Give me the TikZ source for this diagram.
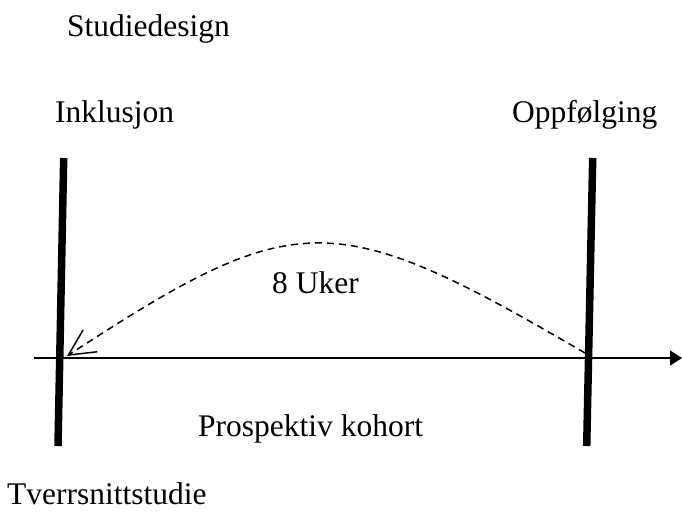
\documentclass[tikz,border=0pt]{standalone}
\usepackage{fontspec}
\setmainfont{Liberation Serif}
\usetikzlibrary{arrows.meta}
\begin{document}
\begin{tikzpicture}[x=1pt,y=-1pt,
  lbl/.style={anchor=base west,inner sep=0pt,font=\fontsize{31.5}{38}\selectfont},
  bar/.style={line width=7.5pt},
  axis/.style={line width=1.5pt,-{Triangle[length=12pt,width=15pt]}},
  span/.style={line width=1.5pt,dash pattern=on 7pt off 5pt,-{Straight Barb[length=26pt,width=26pt,line width=1.5pt]}}]
\useasboundingbox (0,0) rectangle (682,512);
\node[lbl] (title) at (67,36) {Studiedesign};
\node[lbl] (inkl) at (55,122.7) {Inklusjon};
\node[lbl] (oppf) at (512,122.7) {Oppfølging};
\node[lbl] (uker) at (272,293) {8 Uker};
\node[lbl] (pros) at (198,436) {Prospektiv kohort};
\node[lbl] (tver) at (7,504) {Tverrsnittstudie};
\coordinate (lt) at (63.7,158);
\coordinate (lb) at (58,446);
\coordinate (rt) at (592.7,158);
\coordinate (rb) at (586.7,446);
\coordinate (ax0) at (34,358);
\coordinate (ax1) at (682,358);
\coordinate (cs) at (585,353);
\coordinate (ce) at (67,356);
\draw[bar] (lt) -- (lb);
\draw[bar] (rt) -- (rb);
\draw[axis] (ax0) -- (ax1);
\draw[span] (cs) .. controls (333,206) and (297,206) .. (ce);
\end{tikzpicture}
\end{document}
